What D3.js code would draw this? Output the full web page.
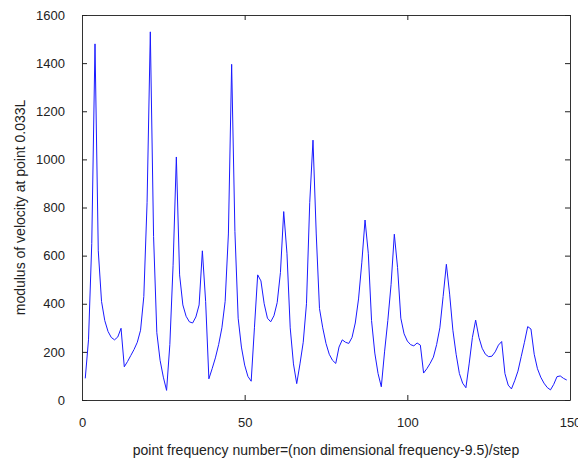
<!DOCTYPE html>
<html lang="en">
<head>
  <meta charset="UTF-8">
  <title>Velocity modulus</title>
  <style>
    body {
      margin: 0;
      padding: 0;
      background: #fff;
      font-family: "Liberation Sans", Arial, sans-serif;
    }
    .tick text {
      font-size: 13px;
      fill: #222;
    }
    .axis-label {
      font-size: 14px;
      fill: #222;
    }
  </style>
</head>
<body>
  <div id="chart"></div>
  <script src="https://d3js.org/d3.v7.min.js"></script>
  <script>
    // modulus of velocity, point frequency numbers 1..149
    const velocity = [
      90, 250, 650, 1480, 620, 410, 330, 285, 260, 250,
      262, 298, 138, 160, 185, 210, 240, 290, 430, 820,
      1530, 680, 280, 165, 95, 40, 230, 560, 1010, 520,
      395, 348, 325, 320, 345, 395, 620, 410, 88, 130,
      175, 230, 300, 410, 690, 1395, 700, 340, 220, 145,
      98, 78, 300, 520, 495, 400, 340, 325, 350, 405,
      530, 783, 610, 300, 150, 68, 150, 240, 400, 820,
      1080, 690, 380, 300, 235, 190, 165, 152, 220, 250,
      240, 235, 260, 320, 420, 570, 748, 610, 330, 195,
      110, 55, 200, 330, 480, 689, 550, 340, 275, 245,
      230, 225, 237, 228, 112, 130, 152, 178, 230, 300,
      430, 564, 440, 290, 190, 110, 70, 51, 150, 260,
      332, 260, 215, 190, 180, 182, 200, 228, 243, 110,
      62, 46, 80, 120, 180, 240, 305, 295, 190, 130,
      95, 70, 52, 42, 65, 97, 100, 90, 83
    ];
    const xTicks = [0, 50, 100, 150];
    const yTicks = [0, 200, 400, 600, 800, 1000, 1200, 1400, 1600];
    const xTitle = 'point frequency number=(non dimensional frequency-9.5)/step';
    const yTitle = 'modulus of velocity at point 0.033L';

    const width = 578;
    const height = 462;
    const margin = {top: 15, right: 8, bottom: 62, left: 82};

    const svg = d3.select('#chart')
      .append('svg')
      .attr('width', width)
      .attr('height', height);

    const x = d3.scaleLinear()
      .domain([0, 150])
      .range([margin.left, width - margin.right]);

    const y = d3.scaleLinear()
      .domain([0, 1600])
      .range([height - margin.bottom, margin.top]);

    const fmt = d3.format('d');

    // inward ticks on all four sides, matlab style
    svg.append('g')
      .attr('transform', `translate(0,${y(0)})`)
      .call(d3.axisBottom(x).tickValues(xTicks).tickFormat(fmt)
        .tickSizeInner(-5).tickSizeOuter(0).tickPadding(18));

    svg.append('g')
      .attr('transform', `translate(0,${y(1600)})`)
      .call(d3.axisTop(x).tickValues(xTicks).tickSizeInner(-5).tickSizeOuter(0).tickFormat(''));

    svg.append('g')
      .attr('transform', `translate(${x(0)},0)`)
      .call(d3.axisLeft(y).tickValues(yTicks).tickFormat(fmt)
        .tickSizeInner(-5).tickSizeOuter(0).tickPadding(17));

    svg.append('g')
      .attr('transform', `translate(${x(150)},0)`)
      .call(d3.axisRight(y).tickValues(yTicks).tickSizeInner(-5).tickSizeOuter(0).tickFormat(''));

    svg.selectAll('.domain').attr('stroke', '#333');
    svg.selectAll('.tick line').attr('stroke', '#222');
    svg.selectAll('.tick text').attr('font-family', null);

    // the line
    const line = d3.line()
      .x((d, i) => x(i + 1))
      .y(d => y(d));

    svg.append('path')
      .datum(velocity)
      .attr('fill', 'none')
      .attr('stroke', '#1a1aff')
      .attr('stroke-width', 1)
      .attr('d', line);

    // axis titles
    svg.append('text')
      .attr('class', 'axis-label')
      .attr('x', (x(0) + x(150)) / 2)
      .attr('y', 455)
      .attr('text-anchor', 'middle')
      .text(xTitle);

    svg.append('text')
      .attr('class', 'axis-label')
      .attr('transform', `translate(25,${(y(0) + y(1600)) / 2}) rotate(-90)`)
      .attr('text-anchor', 'middle')
      .text(yTitle);
  </script>
</body>
</html>
